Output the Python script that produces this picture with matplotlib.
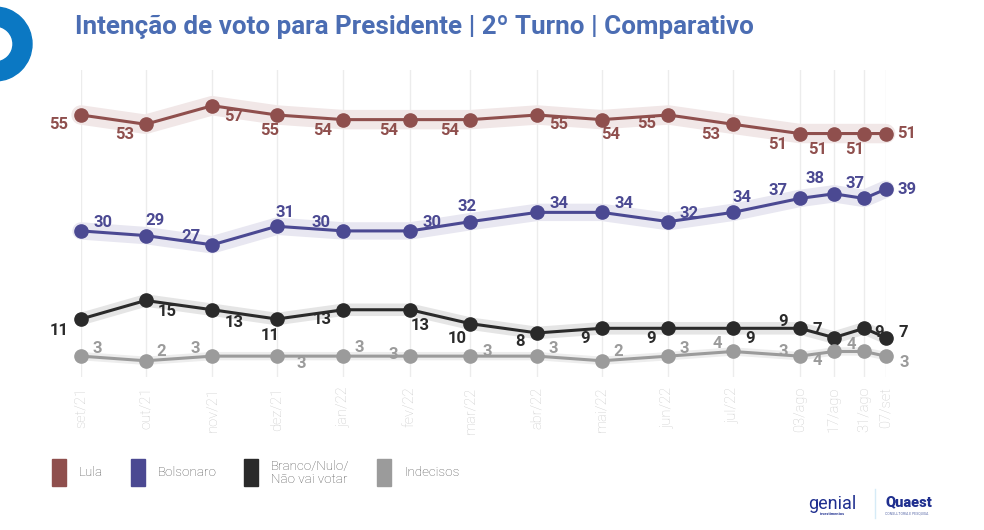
import matplotlib
matplotlib.use('Agg')
import matplotlib.pyplot as plt
import matplotlib.dates as mdates
from matplotlib.patches import Wedge, Rectangle
from datetime import date

# ---------------- data ----------------
dates = [date(2021, 9, 1), date(2021, 10, 1), date(2021, 11, 1), date(2021, 12, 1),
         date(2022, 1, 1), date(2022, 2, 1), date(2022, 3, 1), date(2022, 4, 1),
         date(2022, 5, 1), date(2022, 6, 1), date(2022, 7, 1), date(2022, 8, 1),
         date(2022, 8, 17), date(2022, 8, 31), date(2022, 9, 10)]
tick_labels = ['set/21', 'out/21', 'nov/21', 'dez/21', 'jan/22', 'fev/22', 'mar/22',
               'abr/22', 'mai/22', 'jun/22', 'jul/22', '03/ago', '17/ago', '31/ago', '07/set']
lula = [55, 53, 57, 55, 54, 54, 54, 55, 54, 55, 53, 51, 51, 51, 51]
bolsonaro = [30, 29, 27, 31, 30, 30, 32, 34, 34, 32, 34, 37, 38, 37, 39]
branco = [11, 15, 13, 11, 13, 13, 10, 8, 9, 9, 9, 9, 7, 9, 7]
indecisos = [3, 2, 3, 3, 3, 3, 3, 3, 2, 3, 4, 3, 4, 4, 3]
series_names = ['Lula', 'Bolsonaro', 'Branco/Nulo/\nNão vai votar', 'Indecisos']

# ---------------- styles ----------------
line_colors = ['#8f4f4d', '#4b4992', '#2a2a2a', '#9b9b9b']
band_colors = ['#f1e7e7', '#e8e7f1', '#e5e5e5', '#ededed']
band_widths = [14, 12.5, 9, 6]
# label offsets in pixels (dx, dy with dy positive downward)
offsets = [
    [(-22, 10), (-21, 10), (21, 11), (-7, 16), (-21, 11), (-22, 11), (-21, 11), (21, 10),
     (9, 15), (-22, 9), (-22, 10), (-22, 11), (-16, 16), (-10, 16), (21, 0)],
    [(22, -8), (9, -15), (-21, -8), (8, -14), (-22, -8), (22, -8), (-3, -15), (22, -9),
     (22, -9), (21, -8), (9, -15), (-22, -8), (-19, -15), (-9, -15), (21, 0)],
    [(-22, 11), (22, 11), (22, 13), (-7, 16), (-21, 10), (10, 16), (-13, 15), (-17, 9),
     (-17, 10), (-17, 10), (17, 10), (-17, -7), (-17, -8), (15, 4), (18, -5)],
    [(16, -8), (16, -9), (-17, -8), (24, 7), (16, -9), (-17, -2), (17, -5), (16, -8),
     (16, -9), (16, -8), (-16, -8), (-16, -5), (-17, 9), (-13, -7), (19, 6)],
]

W, H = 984, 530
fig = plt.figure(figsize=(W / 100, H / 100), dpi=100)
fig.patch.set_facecolor('white')

# overlay axes in pixel coordinates for decorations
ov = fig.add_axes([0, 0, 1, 1], zorder=0)
ov.set_xlim(0, W)
ov.set_ylim(H, 0)
ov.axis('off')

# main chart axes
x0, x1 = 81, 885.7
y_top, y_bot = 70, 377
ax = fig.add_axes([x0 / W, (H - y_bot) / H, (x1 - x0) / W, (y_bot - y_top) / H], zorder=1)
ax.patch.set_alpha(0)
xnum = mdates.date2num(dates)
ax.set_xlim(xnum[0], xnum[-1])
ax.set_ylim(-1.5, 64.7)
for s in ax.spines.values():
    s.set_visible(False)
ax.set_yticks([])
ax.set_xticks(xnum)
ax.set_xticklabels(tick_labels, rotation=90, color='#cccccc', fontsize=10.5,
                   family='Roboto', fontweight='light')
ax.tick_params(axis='x', length=0, pad=7)
ax.grid(axis='x', color='#ececec', linewidth=1)
ax.set_axisbelow(True)

all_series = [lula, bolsonaro, branco, indecisos]
for i, vals in enumerate(all_series):
    ax.plot(xnum, vals, color=band_colors[i], linewidth=band_widths[i], zorder=2,
            solid_capstyle='round', solid_joinstyle='round', clip_on=False)
for i, vals in enumerate(all_series):
    for j, v in enumerate(vals):
        dx, dy = offsets[i][j]
        ax.annotate(str(v), (xnum[j], v), xytext=(dx, -dy), textcoords='offset pixels',
                    ha='center', va='center', color=line_colors[i], fontsize=12,
                    family='Roboto', fontweight='bold', zorder=3, annotation_clip=False)
for i, vals in enumerate(all_series):
    ax.plot(xnum, vals, color=line_colors[i], linewidth=2.2, marker='o', markersize=9.5,
            zorder=4 + i, clip_on=False)

# title
ov.text(75, 27, 'Intenção de voto para Presidente | 2º Turno | Comparativo',
        ha='left', va='center', fontsize=18.7, family='Roboto', fontweight='bold',
        color='#4b6db3')

# top-left logo ring
ov.add_patch(Wedge((-5, 44), 37, 0, 360, width=19, color='#0b78c3'))

# legend
leg_x = [52, 131, 244, 377]
txt_x = [79, 158, 271, 404]
for i in range(4):
    ov.add_patch(Rectangle((leg_x[i], 459), 14, 27, color=line_colors[i]))
    ov.text(txt_x[i], 473, series_names[i], ha='left', va='center', fontsize=9.6,
            family='Roboto', fontweight='light', color='#555555', linespacing=1.05)

# partner logos
ov.text(808, 504, 'genial', ha='left', va='center', fontsize=13, family='Roboto',
        color='#1f2f8f')
ov.text(820, 514, 'investimentos', ha='left', va='center', fontsize=2.8, family='Roboto',
        color='#1f2f8f', fontweight='bold')
ov.plot([875, 875], [489, 518], color='#d6ebf7', linewidth=1)
ov.text(885, 502, 'Quaest', ha='left', va='center', fontsize=10.5, family='Roboto',
        fontweight='black', color='#1f2f8f')
ov.text(885, 514, 'CONSULTORIA E PESQUISA', ha='left', va='center', fontsize=2.5,
        family='Roboto', color='#5a6aa8')

fig.savefig('out.png', dpi=100)
